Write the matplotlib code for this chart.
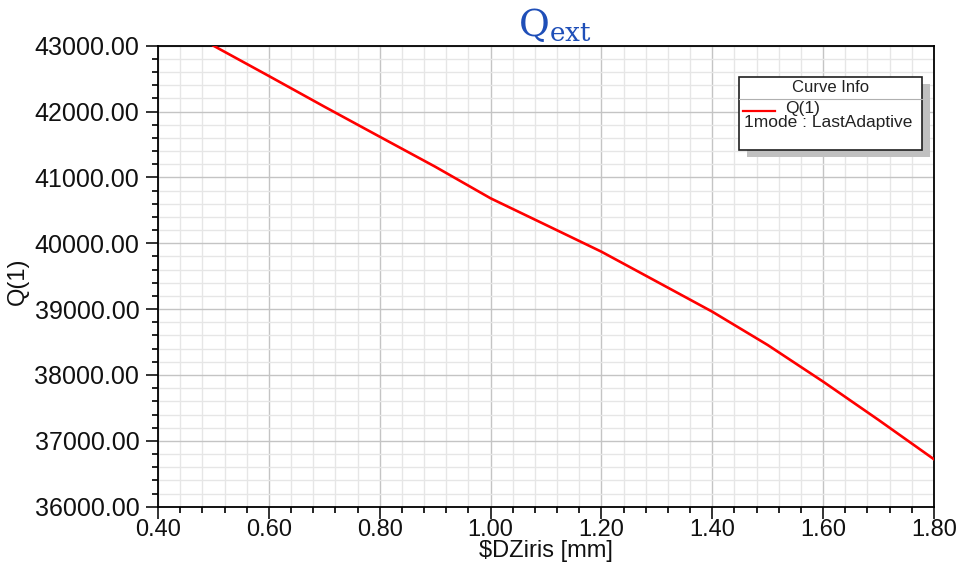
import matplotlib
matplotlib.use("Agg")
import matplotlib.pyplot as plt
from matplotlib.patches import Rectangle
from matplotlib.lines import Line2D
from matplotlib.ticker import MultipleLocator, FormatStrFormatter

# data
dz_iris = [0.5, 0.6, 0.7, 0.8, 0.9, 1.0, 1.1, 1.2, 1.3, 1.4, 1.5, 1.6, 1.7, 1.8]
q1 = [43000, 42540, 42075, 41618, 41163, 40683, 40278, 39872, 39417, 38961,
      38455, 37899, 37317, 36720]

plt.rcParams['font.family'] = ['Liberation Sans', 'DejaVu Sans']

fig = plt.figure(figsize=(9.63, 5.62), dpi=100)
ax = fig.add_axes([158/963, 1-506.7/562, (934-158)/963, (506.7-45.7)/562])

ax.plot(dz_iris, q1, color='#ff0000', lw=1.9, zorder=3)

ax.set_xlim(0.4, 1.8)
ax.set_ylim(36000, 43000)
ax.xaxis.set_major_locator(MultipleLocator(0.2))
ax.xaxis.set_minor_locator(MultipleLocator(0.04))
ax.yaxis.set_major_locator(MultipleLocator(1000))
ax.yaxis.set_minor_locator(MultipleLocator(200))
ax.xaxis.set_major_formatter(FormatStrFormatter('%.2f'))
ax.yaxis.set_major_formatter(FormatStrFormatter('%.2f'))

ax.grid(which='major', color='#c4c4c4', lw=1.0)
ax.grid(which='minor', color='#e6e6e6', lw=1.0)
ax.set_axisbelow(True)

ax.tick_params(which='major', direction='out', length=8.5, width=1.2,
               colors='#111111')
ax.tick_params(axis='y', which='major', pad=5, labelsize=18)
ax.tick_params(axis='x', which='major', pad=0, labelsize=17)
ax.tick_params(which='minor', direction='out', length=4.5, width=1.2)
for s in ax.spines.values():
    s.set_color('black')
    s.set_linewidth(1.3)

ax.set_xlabel('$DZiris [mm]', fontsize=17, color='#111111')
ax.xaxis.set_label_coords(0.5, -0.072)
ax.set_ylabel('Q(1)', fontsize=17, color='#111111')
ax.yaxis.set_label_coords(-0.166, 0.49)

# title
fig.text(555/963, 1-25/562, r'$\mathrm{Q}_{\mathrm{ext}}$', color='#1f4fb8',
         fontsize=27, ha='center', va='center', math_fontfamily='dejavuserif')

# curve info box
W, H = 963, 562
x0, y0, x1, y1 = 739, 77, 922, 150
fig.patches.append(Rectangle(((x0+8)/W, 1-(y1+7)/H), (x1-x0)/W, (y1-y0)/H,
                             transform=fig.transFigure, facecolor='#c0c0c0',
                             edgecolor='none', zorder=5))
fig.patches.append(Rectangle((x0/W, 1-y1/H), (x1-x0)/W, (y1-y0)/H,
                             transform=fig.transFigure, facecolor='white',
                             edgecolor='#202020', lw=1.2, zorder=6))
fig.lines.append(Line2D([x0/W, x1/W], [1-99/H, 1-99/H], transform=fig.transFigure,
                        color='#b0b0b0', lw=0.8, zorder=7))
fig.text((x0+x1)/2/W, 1-87/H, 'Curve Info', fontsize=12, ha='center',
         va='center', color='#222222', zorder=7)
fig.lines.append(Line2D([743/W, 775/W], [1-111/H, 1-111/H], transform=fig.transFigure,
                        color='#ff0000', lw=1.6, zorder=7))
fig.text(785/W, 1-108/H, 'Q(1)', fontsize=12.5, ha='left', va='center',
         color='#222222', zorder=7)
fig.text(744/W, 1-123/H, '1mode : LastAdaptive', fontsize=12.5, ha='left',
         va='center', color='#222222', zorder=7)

fig.savefig('out.png', dpi=100)
